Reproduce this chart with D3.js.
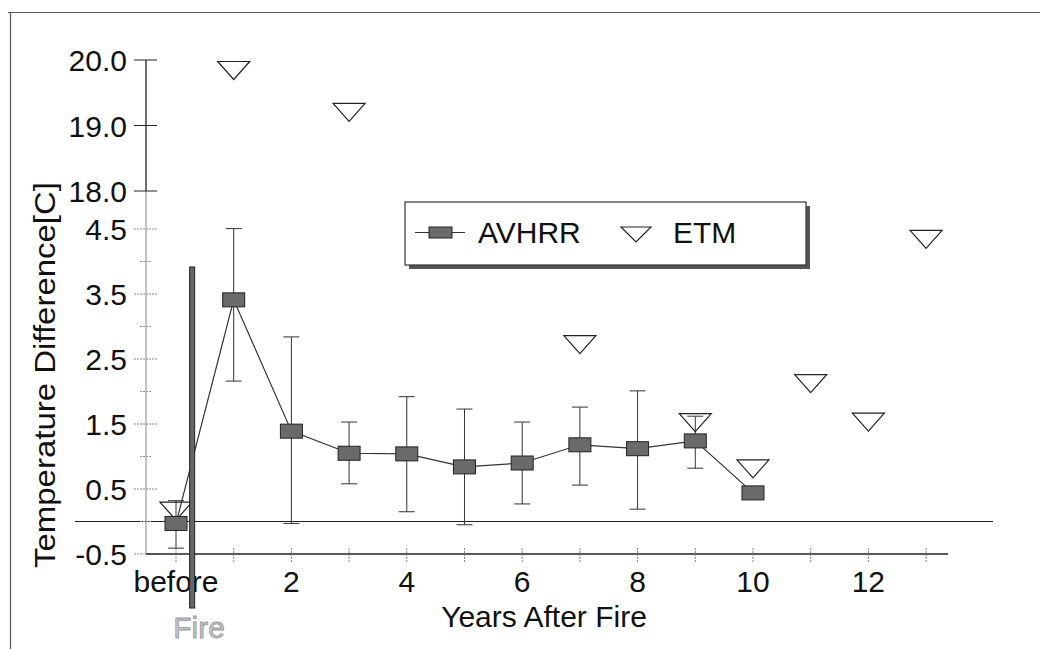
<!DOCTYPE html>
<html><head><meta charset="utf-8">
<script src="https://cdn.jsdelivr.net/npm/d3@7"></script>
<style>body{margin:0;background:#fff}</style>
</head><body><svg id="c" width="1040" height="649"></svg>
<script>
// ---- data ----
const years = [0, 1, 2, 3, 4, 5, 6, 7, 8, 9, 10];
const avhrr = [-0.03, 3.41, 1.39, 1.05, 1.04, 0.84, 0.90, 1.18, 1.12, 1.24, 0.44];
const avhrrHi = [0.32, 4.64, 2.84, 1.53, 1.92, 1.73, 1.53, 1.76, 2.01, 1.62, null];
const avhrrLo = [-0.41, 2.16, -0.03, 0.58, 0.15, -0.05, 0.27, 0.56, 0.19, 0.82, null];
const etmYears = [0, 1, 3, 7, 9, 10, 11, 12, 13];
const etm = [0.16, 19.84, 19.2, 2.72, 1.52, 0.81, 2.12, 1.53, 4.34];
const xTicks = [0, 2, 4, 6, 8, 10, 12];
const xTickLabels = ["before", "2", "4", "6", "8", "10", "12"];
const xMinor = [0, 1, 2, 3, 4, 5, 6, 7, 8, 9, 10, 11, 12, 13];
const yTicks = [-0.5, 0.5, 1.5, 2.5, 3.5, 4.5, 18, 19, 20];
const yTickLabels = ["-0.5", "0.5", "1.5", "2.5", "3.5", "4.5", "18.0", "19.0", "20.0"];
const yMinor = [0, 1, 2, 3, 4];
const fireYear = 0.28;
const seriesNames = ["AVHRR", "ETM"];

// ---- scales ----
const x = d3.scaleLinear().domain([-0.52, 13.38]).range([146, 948]);
const y = d3.scaleLinear().domain([-0.5, 4.5, 18, 20]).range([554, 229, 191, 60]);

const svg = d3.select("#c");
const FONT = "'Liberation Sans', Arial, sans-serif";

// frame
svg.append("line").attr("x1", 8).attr("x2", 1040).attr("y1", 12.5).attr("y2", 12.5)
  .attr("stroke", "#555").attr("stroke-width", 1.2);
svg.append("line").attr("x1", 10.5).attr("x2", 10.5).attr("y1", 12).attr("y2", 649)
  .attr("stroke", "#555").attr("stroke-width", 1.2);

// zero line
svg.append("line").attr("x1", 75).attr("x2", 993).attr("y1", y(0)).attr("y2", y(0))
  .attr("stroke", "#222").attr("stroke-width", 1.2);

// y axis
svg.append("line").attr("x1", x(-0.52)).attr("x2", x(-0.52)).attr("y1", y(20)).attr("y2", y(18))
  .attr("stroke", "#111").attr("stroke-width", 1.2);
svg.append("line").attr("x1", x(-0.52)).attr("x2", x(-0.52)).attr("y1", y(18)).attr("y2", y(-0.5))
  .attr("stroke", "#888").attr("stroke-width", 1);
const ax0 = x(-0.52);
svg.selectAll(".ytick").data(yTicks).join("line")
  .attr("x1", ax0 - 12).attr("x2", ax0 + 11)
  .attr("y1", d => y(d)).attr("y2", d => y(d))
  .attr("stroke", d => d >= 18 ? "#222" : "#888").attr("stroke-width", 1)
  .attr("stroke-dasharray", d => d >= 18 ? null : "2,1");
svg.selectAll(".yminor").data(yMinor).join("line")
  .attr("x1", ax0 - 6).attr("x2", ax0 + 6)
  .attr("y1", d => y(d)).attr("y2", d => y(d))
  .attr("stroke", "#999").attr("stroke-width", 1).attr("stroke-dasharray", "2,1");
svg.selectAll(".ylab").data(yTicks).join("text")
  .attr("x", 127).attr("y", d => y(d) + 11)
  .attr("text-anchor", "end").attr("font-family", FONT).attr("font-size", 30).attr("fill", "#111")
  .text((d, i) => yTickLabels[i]);

// x axis
svg.append("line").attr("x1", x(-0.52)).attr("x2", x(13.38)).attr("y1", y(-0.5)).attr("y2", y(-0.5))
  .attr("stroke", "#222").attr("stroke-width", 1.5);
svg.selectAll(".xtick").data(xMinor).join("line")
  .attr("x1", d => x(d)).attr("x2", d => x(d))
  .attr("y1", y(-0.5) - 6).attr("y2", y(-0.5) + 8)
  .attr("stroke", "#888").attr("stroke-width", 1).attr("stroke-dasharray", "2,1");
svg.selectAll(".xlab").data(xTicks).join("text")
  .attr("x", d => x(d)).attr("y", 592)
  .attr("text-anchor", "middle").attr("font-family", FONT).attr("font-size", 30).attr("fill", "#111")
  .text((d, i) => xTickLabels[i]);

// axis titles
svg.append("text").attr("x", 544).attr("y", 627).attr("text-anchor", "middle")
  .attr("font-family", FONT).attr("font-size", 30).attr("fill", "#111").text("Years After Fire");
svg.append("text").attr("transform", "translate(55,375) rotate(-90)").attr("text-anchor", "middle")
  .attr("font-family", FONT).attr("font-size", 30).attr("fill", "#111")
  .attr("textLength", 386).attr("lengthAdjust", "spacingAndGlyphs")
  .text("Temperature Difference[C]");

// error bars
const eb = years.map((d, i) => ({x: d, hi: avhrrHi[i], lo: avhrrLo[i]})).filter(d => d.hi != null);
const ebg = svg.append("g").attr("stroke", "#333").attr("stroke-width", 1);
ebg.selectAll(".ev").data(eb).join("line")
  .attr("x1", d => x(d.x)).attr("x2", d => x(d.x)).attr("y1", d => y(d.hi)).attr("y2", d => y(d.lo));
ebg.selectAll(".et").data(eb).join("line")
  .attr("x1", d => x(d.x) - 8).attr("x2", d => x(d.x) + 8).attr("y1", d => y(d.hi)).attr("y2", d => y(d.hi));
ebg.selectAll(".eb").data(eb).join("line")
  .attr("x1", d => x(d.x) - 8).attr("x2", d => x(d.x) + 8).attr("y1", d => y(d.lo)).attr("y2", d => y(d.lo));

// AVHRR line
const pts = years.map((d, i) => [x(d), y(avhrr[i])]);
svg.append("path").attr("d", d3.line()(pts)).attr("fill", "none").attr("stroke", "#333").attr("stroke-width", 1.2);

// ETM triangles
function tri(cx, cy) {
  const p = d3.path();
  p.moveTo(cx - 16, cy - 9); p.lineTo(cx + 16, cy - 9); p.lineTo(cx, cy + 9); p.closePath();
  return p.toString();
}
svg.selectAll(".etm").data(etmYears).join("path")
  .attr("d", (d, i) => tri(x(d), y(etm[i])))
  .attr("fill", "none").attr("stroke", "#222").attr("stroke-width", 1.2);

// Fire line
svg.append("rect").attr("x", x(fireYear) - 2.5).attr("y", 267).attr("width", 5).attr("height", 341)
  .attr("fill", "#666").attr("stroke", "#222").attr("stroke-width", 1);
svg.append("text").attr("x", 199).attr("y", 638).attr("text-anchor", "middle")
  .attr("font-family", FONT).attr("font-size", 30).attr("fill", "#c4c4c4")
  .attr("stroke", "#999").attr("stroke-width", 0.8).text("Fire");

// AVHRR squares
svg.selectAll(".sq").data(years).join("rect")
  .attr("x", d => x(d) - 11).attr("y", (d, i) => y(avhrr[i]) - 7)
  .attr("width", 22).attr("height", 14)
  .attr("fill", "#6a6a6a").attr("stroke", "#222").attr("stroke-width", 1);

// legend
const lg = svg.append("g");
lg.append("rect").attr("x", 409).attr("y", 206).attr("width", 401).attr("height", 63).attr("fill", "#555");
lg.append("rect").attr("x", 405).attr("y", 202).attr("width", 401).attr("height", 63)
  .attr("fill", "#fff").attr("stroke", "#333").attr("stroke-width", 1.2);
lg.append("line").attr("x1", 415).attr("x2", 465).attr("y1", 232.5).attr("y2", 232.5)
  .attr("stroke", "#333").attr("stroke-width", 1.2);
lg.append("rect").attr("x", 429).attr("y", 227).attr("width", 23).attr("height", 11)
  .attr("fill", "#6a6a6a").attr("stroke", "#222");
lg.append("text").attr("x", 478).attr("y", 243).attr("font-family", FONT).attr("font-size", 30)
  .attr("fill", "#111").text(seriesNames[0]);
lg.append("path").attr("d", "M621,227L651,227L636,242Z").attr("fill", "none").attr("stroke", "#222").attr("stroke-width", 1.2);
lg.append("text").attr("x", 673).attr("y", 243).attr("font-family", FONT).attr("font-size", 30)
  .attr("fill", "#111").text(seriesNames[1]);
</script></body></html>
